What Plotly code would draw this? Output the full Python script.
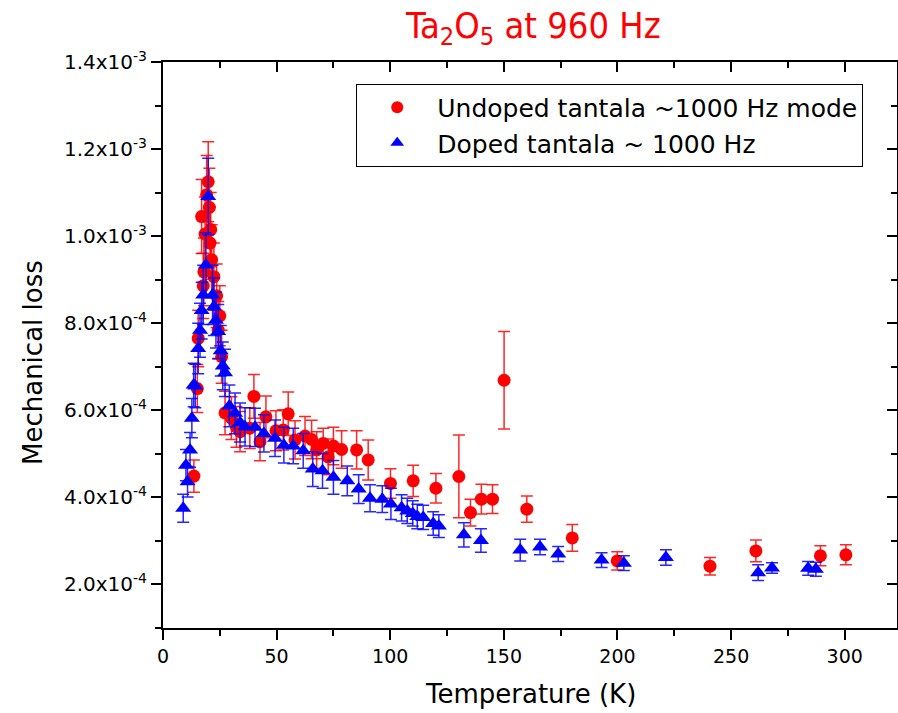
import plotly.graph_objects as go

# Undoped tantala ~1000 Hz mode (red circles)
undoped_T = [13.6, 15.1, 15.5, 17.0, 17.7, 18.0, 18.5, 19.2, 19.9, 20.4, 20.7, 21.0, 21.4, 22.4,
             23.6, 24.3, 25.0, 25.8, 27.3, 30.1, 32.3, 33.9, 38.2, 40.0, 42.7, 45.3, 49.7, 52.9,
             55.1, 58.1, 62.5, 65.4, 67.6, 70.5, 72.7, 75.0, 78.6, 85.2, 90.3, 100.1, 110.1,
             120.1, 130.2, 135.3, 140.1, 145.0, 150.1, 160.1, 180.1, 199.9, 240.7, 260.9,
             289.3, 300.5]
undoped_loss = [0.449e-3, 0.650e-3, 0.765e-3, 1.045e-3, 0.886e-3, 0.918e-3, 1.005e-3, 1.095e-3,
                1.125e-3, 1.066e-3, 0.984e-3, 1.015e-3, 0.946e-3, 0.907e-3, 0.863e-3, 0.784e-3,
                0.817e-3, 0.723e-3, 0.594e-3, 0.582e-3, 0.562e-3, 0.551e-3, 0.559e-3, 0.632e-3,
                0.528e-3, 0.585e-3, 0.553e-3, 0.555e-3, 0.592e-3, 0.532e-3, 0.541e-3, 0.533e-3,
                0.509e-3, 0.524e-3, 0.493e-3, 0.518e-3, 0.510e-3, 0.509e-3, 0.486e-3, 0.432e-3,
                0.438e-3, 0.421e-3, 0.448e-3, 0.365e-3, 0.396e-3, 0.396e-3, 0.669e-3, 0.373e-3,
                0.307e-3, 0.254e-3, 0.242e-3, 0.277e-3, 0.266e-3, 0.268e-3]
undoped_err = [0.037e-3, 0.055e-3, 0.065e-3, 0.085e-3, 0.075e-3, 0.078e-3, 0.085e-3, 0.090e-3,
               0.092e-3, 0.090e-3, 0.083e-3, 0.085e-3, 0.080e-3, 0.077e-3, 0.073e-3, 0.066e-3,
               0.069e-3, 0.061e-3, 0.050e-3, 0.049e-3, 0.047e-3, 0.046e-3, 0.047e-3, 0.050e-3,
               0.044e-3, 0.048e-3, 0.046e-3, 0.046e-3, 0.050e-3, 0.044e-3, 0.045e-3, 0.044e-3,
               0.042e-3, 0.035e-3, 0.041e-3, 0.043e-3, 0.043e-3, 0.044e-3, 0.046e-3, 0.034e-3,
               0.036e-3, 0.034e-3, 0.095e-3, 0.031e-3, 0.034e-3, 0.033e-3, 0.112e-3, 0.030e-3,
               0.031e-3, 0.021e-3, 0.020e-3, 0.025e-3, 0.023e-3, 0.023e-3]

# Doped tantala ~1000 Hz (blue triangles)
doped_T = [8.9, 10.1, 10.8, 11.9, 12.7, 13.5, 14.2, 15.5, 16.3, 17.0, 17.7, 18.9, 19.9, 21.8,
           22.4, 23.3, 24.3, 25.4, 26.3, 27.3, 29.2, 31.7, 33.9, 36.1, 40.5, 44.4, 49.3, 53.2,
           57.3, 61.7, 65.9, 70.2, 75.0, 81.1, 86.1, 91.1, 96.5, 100.3, 105.0, 107.5, 109.9,
           111.9, 114.5, 118.9, 121.4, 132.4, 139.9, 157.2, 165.9, 173.9, 193.0, 202.8, 221.3,
           261.9, 268.0, 283.9, 287.3]
doped_loss = [0.375e-3, 0.474e-3, 0.436e-3, 0.509e-3, 0.582e-3, 0.658e-3, 0.656e-3, 0.742e-3,
              0.784e-3, 0.829e-3, 0.865e-3, 0.934e-3, 1.091e-3, 0.865e-3, 0.838e-3, 0.807e-3,
              0.781e-3, 0.737e-3, 0.702e-3, 0.686e-3, 0.610e-3, 0.593e-3, 0.572e-3, 0.562e-3,
              0.561e-3, 0.547e-3, 0.536e-3, 0.520e-3, 0.518e-3, 0.507e-3, 0.465e-3, 0.461e-3,
              0.446e-3, 0.438e-3, 0.419e-3, 0.398e-3, 0.396e-3, 0.385e-3, 0.376e-3, 0.369e-3,
              0.363e-3, 0.356e-3, 0.354e-3, 0.340e-3, 0.334e-3, 0.314e-3, 0.301e-3, 0.279e-3,
              0.286e-3, 0.270e-3, 0.256e-3, 0.249e-3, 0.262e-3, 0.227e-3, 0.238e-3, 0.237e-3,
              0.235e-3]
doped_err = [0.032e-3, 0.036e-3, 0.035e-3, 0.040e-3, 0.045e-3, 0.050e-3, 0.050e-3, 0.058e-3,
             0.062e-3, 0.065e-3, 0.068e-3, 0.074e-3, 0.088e-3, 0.068e-3, 0.066e-3, 0.064e-3,
             0.062e-3, 0.058e-3, 0.055e-3, 0.054e-3, 0.048e-3, 0.047e-3, 0.045e-3, 0.044e-3,
             0.044e-3, 0.043e-3, 0.042e-3, 0.041e-3, 0.041e-3, 0.040e-3, 0.040e-3, 0.040e-3,
             0.039e-3, 0.034e-3, 0.033e-3, 0.031e-3, 0.031e-3, 0.036e-3, 0.030e-3, 0.029e-3,
             0.029e-3, 0.028e-3, 0.028e-3, 0.027e-3, 0.026e-3, 0.028e-3, 0.027e-3, 0.025e-3,
             0.018e-3, 0.017e-3, 0.017e-3, 0.017e-3, 0.018e-3, 0.018e-3, 0.012e-3, 0.016e-3,
             0.016e-3]

y_tickvals = [2e-4, 4e-4, 6e-4, 8e-4, 1.0e-3, 1.2e-3, 1.4e-3]
y_ticktext = ["2.0x10<sup>-4</sup>", "4.0x10<sup>-4</sup>", "6.0x10<sup>-4</sup>",
              "8.0x10<sup>-4</sup>", "1.0x10<sup>-3</sup>", "1.2x10<sup>-3</sup>",
              "1.4x10<sup>-3</sup>"]
x_tickvals = [0, 50, 100, 150, 200, 250, 300]

FONT = "DejaVu Sans, Liberation Sans, Arial, sans-serif"

fig = go.Figure()
fig.add_trace(go.Scatter(
    x=undoped_T, y=undoped_loss, mode="markers", name="Undoped tantala ~1000 Hz mode",
    marker=dict(symbol="circle", size=13, color="#ff0000", line=dict(width=0)),
    error_y=dict(type="data", array=undoped_err, visible=True, color="rgba(255,0,0,0.85)",
                 thickness=1.5, width=6),
))
fig.add_trace(go.Scatter(
    x=doped_T, y=doped_loss, mode="markers", name="Doped tantala ~ 1000 Hz",
    marker=dict(symbol="triangle-up", size=14, color="#0000ff", line=dict(width=0)),
    error_y=dict(type="data", array=doped_err, visible=True, color="rgba(0,0,255,0.85)",
                 thickness=1.5, width=6),
))
# empty trace to attach the mirrored top/right axes
fig.add_trace(go.Scatter(x=[], y=[], xaxis="x2", yaxis="y2", showlegend=False,
                         hoverinfo="skip"))

axis_common = dict(showgrid=False, zeroline=False, showline=True, linecolor="black",
                   linewidth=2)

fig.update_layout(
    width=898, height=713,
    margin=dict(l=163, r=1, t=62, b=85),
    paper_bgcolor="white", plot_bgcolor="white",
    font=dict(family=FONT, color="black"),
    title=dict(text="Ta<sub>2</sub>O<sub>5</sub> at 960 Hz",
               font=dict(family="DejaVu Sans Condensed, DejaVu Sans, sans-serif",
                         size=36, color="#ff0000"),
               x=0.594, xanchor="center", y=0.965, yanchor="middle"),
    xaxis=dict(range=[0, 323], tickvals=x_tickvals, ticks="outside", ticklen=10,
               tickwidth=2, tickcolor="black", tickfont=dict(size=19),
               minor=dict(dtick=25, tick0=0, ticks="outside", ticklen=6, tickwidth=2,
                          tickcolor="black"),
               **axis_common),
    yaxis=dict(range=[1e-4, 1.4e-3], tickvals=y_tickvals, ticktext=y_ticktext,
               ticks="outside", ticklen=10, tickwidth=2, tickcolor="black",
               tickfont=dict(size=20),
               minor=dict(dtick=1e-4, tick0=0, ticks="outside", ticklen=6, tickwidth=2,
                          tickcolor="black"),
               **axis_common),
    xaxis2=dict(overlaying="x", side="top", matches="x", anchor="y", ticks="inside",
                tickvals=x_tickvals, showticklabels=False, ticklen=10, tickwidth=2,
                tickcolor="black",
                minor=dict(dtick=25, tick0=0, ticks="inside", ticklen=6, tickwidth=2,
                           tickcolor="black"),
                **axis_common),
    yaxis2=dict(overlaying="y", side="right", matches="y", anchor="x", ticks="inside",
                tickvals=y_tickvals, showticklabels=False, ticklen=10, tickwidth=2,
                tickcolor="black",
                minor=dict(dtick=1e-4, tick0=0, ticks="inside", ticklen=6, tickwidth=2,
                           tickcolor="black"),
                **axis_common),
    legend=dict(x=0.954, xanchor="right", y=0.962, yanchor="top",
                bgcolor="white", bordercolor="black", borderwidth=1,
                font=dict(size=25, family=FONT), itemsizing="constant",
                itemwidth=70, tracegroupgap=0),
    showlegend=True,
    annotations=[
        dict(text="Temperature (K)", xref="paper", yref="paper", x=0.5, y=0,
             yshift=-66, xanchor="center", yanchor="middle", showarrow=False,
             font=dict(size=26, family=FONT)),
        dict(text="Mechanical loss", xref="paper", yref="paper", x=0, y=0.5,
             xshift=-130, yshift=-18, xanchor="center", yanchor="middle", textangle=-90,
             showarrow=False, font=dict(size=26, family=FONT)),
    ],
)

fig.write_html("out.html")
